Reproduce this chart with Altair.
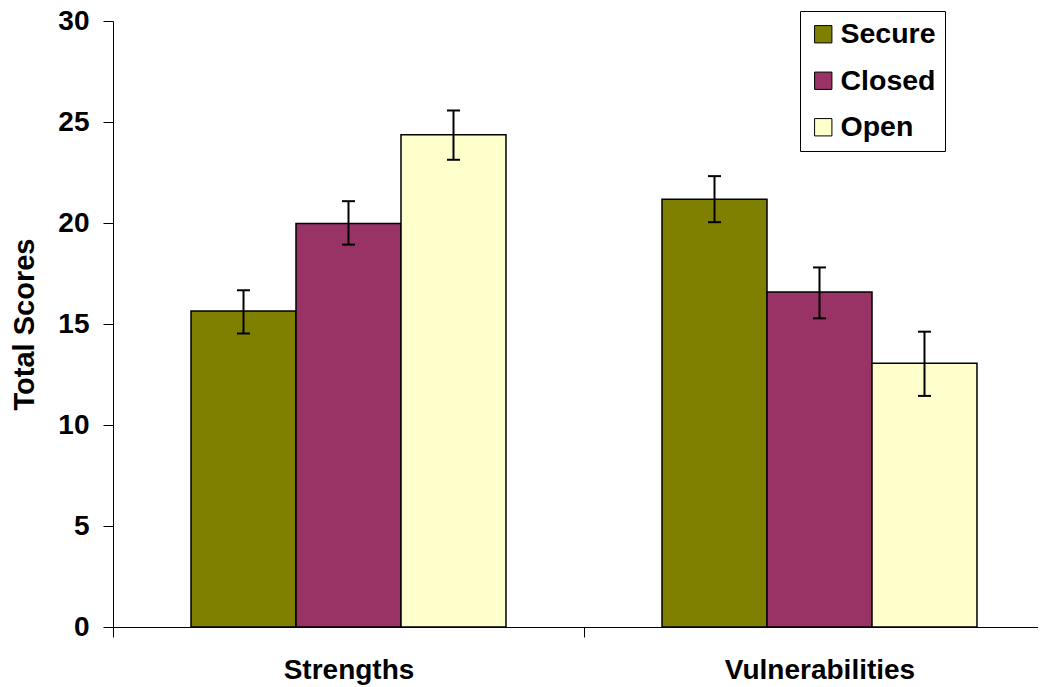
import altair as alt
import pandas as pd

categories = ["Strengths", "Vulnerabilities"]
groups = ["Secure", "Closed", "Open"]
colors = ["#808000", "#993366", "#FFFFCC"]

strengths_mean = [15.64, 19.97, 24.37]
strengths_lo = [14.53, 18.93, 23.13]
strengths_hi = [16.67, 21.08, 25.57]

vuln_mean = [21.18, 16.58, 13.06]
vuln_lo = [20.04, 15.28, 11.44]
vuln_hi = [22.32, 17.80, 14.62]

y_ticks = [0, 5, 10, 15, 20, 25, 30]

rows = []
for cat, m, lo, hi in [
    (categories[0], strengths_mean, strengths_lo, strengths_hi),
    (categories[1], vuln_mean, vuln_lo, vuln_hi),
]:
    for g, a, b, c in zip(groups, m, lo, hi):
        rows.append({"Category": cat, "Group": g, "Score": a, "Lo": b, "Hi": c})
df = pd.DataFrame(rows)

FONT = "Liberation Sans"

x = alt.X(
    "Category:N",
    sort=categories,
    scale=alt.Scale(domain=categories, paddingInner=0, paddingOuter=0, range=[0, 942]),
    axis=alt.Axis(
        title=None, labelAngle=0, tickBand="extent", tickSize=10, tickColor="black",
        domainColor="black", domainWidth=1, tickWidth=1, labelLimit=0,
        labelFont=FONT, labelFontSize=28, labelFontWeight="bold", labelColor="black",
        labelPadding=19,
    ),
)
xo = alt.XOffset(
    "Group:N", sort=groups,
    scale=alt.Scale(domain=groups, paddingInner=0, paddingOuter=0.743),
)
y = alt.Y(
    "Score:Q",
    scale=alt.Scale(domain=[0, 30], nice=False),
    axis=alt.Axis(
        values=y_ticks, title="Total Scores", grid=False, tickSize=10, tickColor="black",
        domainColor="black", domainWidth=1, tickWidth=1,
        labelFont=FONT, labelFontSize=28, labelFontWeight="bold", labelColor="black",
        labelPadding=14,
        titleFont=FONT, titleFontSize=29, titleFontWeight="bold", titleColor="black",
        titleAngle=270, titleAlign="center", titleBaseline="alphabetic",
        titleX=-80, titleY=303,
    ),
)
color = alt.Color(
    "Group:N", sort=groups,
    scale=alt.Scale(domain=groups, range=colors),
    legend=alt.Legend(
        title=None, orient="none", legendX=687, legendY=-10,
        strokeColor="black", fillColor="white", padding=9,
        symbolType="square", symbolSize=300, symbolStrokeColor="black",
        symbolStrokeWidth=1, symbolOpacity=1, rowPadding=17.5, labelOffset=3,
        labelFont=FONT, labelFontSize=28.5, labelFontWeight="bold", labelColor="black",
    ),
)

base = alt.Chart(df)

bars = base.mark_bar(stroke="black", strokeWidth=1.5, opacity=1).encode(
    x=x, xOffset=xo, y=y, color=color
)
rules = base.mark_rule(color="black", strokeWidth=2).encode(
    x=x, xOffset=xo, y=alt.Y("Lo:Q"), y2=alt.Y2("Hi:Q")
)
cap_lo = base.mark_tick(color="black", thickness=2, size=13, opacity=1).encode(
    x=x, xOffset=xo, y=alt.Y("Lo:Q")
)
cap_hi = base.mark_tick(color="black", thickness=2, size=13, opacity=1).encode(
    x=x, xOffset=xo, y=alt.Y("Hi:Q")
)

chart = (
    alt.layer(bars, rules, cap_lo, cap_hi)
    .properties(
        width=925, height=606,
        autosize=alt.AutoSizeParams(type="none"),
        padding={"left": 105, "top": 13, "right": 0, "bottom": 60},
        background="white",
    )
    .configure_view(stroke=None)
)

chart.save("out.html", embed_options={"renderer": "svg", "actions": False})
